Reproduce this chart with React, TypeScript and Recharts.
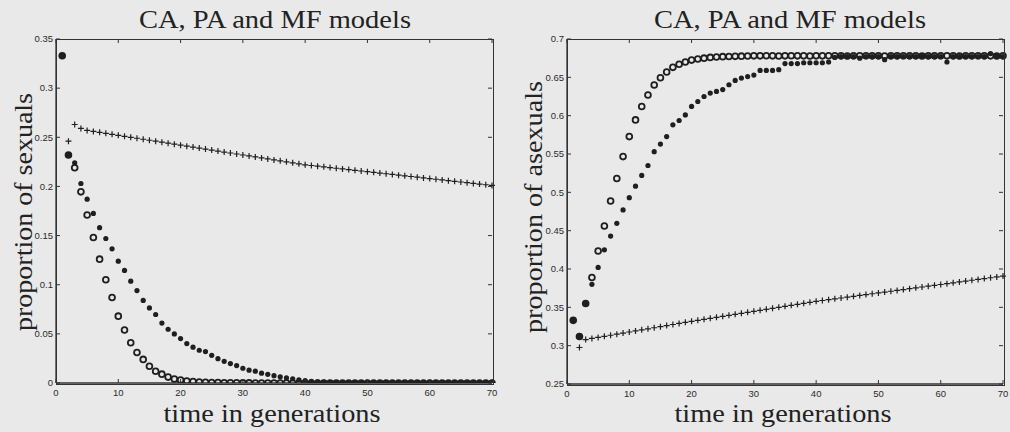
import React from 'react';
import { ScatterChart, Scatter, XAxis, YAxis } from 'recharts';

// generation index shared by every series
const generations = [
  1, 2, 3, 4, 5, 6, 7, 8, 9, 10, 11, 12, 13, 14, 15, 16, 17, 18, 19, 20,
  21, 22, 23, 24, 25, 26, 27, 28, 29, 30, 31, 32, 33, 34, 35, 36, 37, 38, 39, 40,
  41, 42, 43, 44, 45, 46, 47, 48, 49, 50, 51, 52, 53, 54, 55, 56, 57, 58, 59, 60,
  61, 62, 63, 64, 65, 66, 67, 68, 69, 70,
];

// proportion of sexuals
const sexualsCA = [
  0.333, 0.232, 0.219, 0.1945, 0.171, 0.148, 0.126, 0.105, 0.087, 0.068,
  0.054, 0.041, 0.031, 0.024, 0.017, 0.012, 0.009, 0.006, 0.004, 0.003,
  0.002, 0.0015, 0.001, 0.0007, 0.0005, 0.0004, 0.0003, 0.0002, 0.0002, 0.0001,
  0.0001, 0, 0, 0, 0, 0, 0, 0, 0, 0,
  0, 0, 0, 0, 0, 0, 0, 0, 0, 0,
  0, 0, 0, 0, 0, 0, 0, 0, 0, 0,
  0, 0, 0, 0, 0, 0, 0, 0, 0, 0,
];
const sexualsPA = [
  0.333, 0.232, 0.224, 0.203, 0.187, 0.1725, 0.158, 0.147, 0.1365, 0.124,
  0.1145, 0.1036, 0.094, 0.084, 0.0764, 0.0697, 0.061, 0.0547, 0.0499, 0.0452,
  0.0401, 0.0364, 0.0333, 0.032, 0.0282, 0.0248, 0.0221, 0.0198, 0.0177, 0.015,
  0.013, 0.012, 0.01, 0.0088, 0.0075, 0.0063, 0.0052, 0.0042, 0.0033, 0.0025,
  0.0018, 0.0012, 0.0008, 0.0005, 0.0003, 0.0002, 0.0001, 0.0001, 0, 0,
  0, 0, 0, 0, 0, 0, 0, 0, 0, 0,
  0, 0, 0, 0, 0, 0, 0, 0, 0, 0,
];
const sexualsMF = [
  0.333, 0.246, 0.263, 0.259, 0.257, 0.256, 0.255, 0.254, 0.253, 0.252,
  0.251, 0.25, 0.249, 0.248, 0.247, 0.246, 0.245, 0.244, 0.243, 0.242,
  0.241, 0.24, 0.239, 0.238, 0.237, 0.236, 0.235, 0.234, 0.233, 0.232,
  0.231, 0.23, 0.229, 0.228, 0.227, 0.226, 0.225, 0.224, 0.223, 0.222,
  0.2213, 0.2206, 0.2199, 0.2192, 0.2185, 0.2178, 0.2171, 0.2164, 0.2157, 0.215,
  0.2143, 0.2136, 0.2129, 0.2122, 0.2115, 0.2108, 0.2101, 0.2094, 0.2087, 0.208,
  0.2073, 0.2066, 0.2059, 0.2052, 0.2045, 0.2038, 0.2031, 0.2024, 0.2017, 0.201,
];

// proportion of asexuals
const asexualsCA = [
  0.333, 0.312, 0.355, 0.389, 0.4235, 0.456, 0.4887, 0.518, 0.5466, 0.5727,
  0.5945, 0.612, 0.627, 0.64, 0.6495, 0.657, 0.663, 0.667, 0.67, 0.6725,
  0.674, 0.675, 0.676, 0.6765, 0.677, 0.6772, 0.6774, 0.6776, 0.6778, 0.678,
  0.678, 0.6782, 0.678, 0.6778, 0.678, 0.6782, 0.678, 0.678, 0.6778, 0.678,
  0.678, 0.6782, 0.678, 0.678, 0.6778, 0.678, 0.678, 0.6782, 0.678, 0.678,
  0.6778, 0.678, 0.678, 0.6782, 0.678, 0.678, 0.6778, 0.678, 0.678, 0.6782,
  0.678, 0.678, 0.6778, 0.678, 0.678, 0.6782, 0.678, 0.678, 0.6778, 0.678,
];
const asexualsPA = [
  0.333, 0.312, 0.355, 0.38, 0.402, 0.425, 0.443, 0.4596, 0.477, 0.493,
  0.508, 0.522, 0.535, 0.553, 0.563, 0.5727, 0.588, 0.5937, 0.601, 0.612,
  0.6185, 0.625, 0.6295, 0.6316, 0.634, 0.6403, 0.646, 0.649, 0.651, 0.653,
  0.659, 0.659, 0.659, 0.66, 0.668, 0.668, 0.668, 0.669, 0.669, 0.669,
  0.669, 0.67, 0.676, 0.677, 0.677, 0.677, 0.675, 0.677, 0.677, 0.677,
  0.673, 0.677, 0.677, 0.677, 0.677, 0.677, 0.678, 0.677, 0.677, 0.677,
  0.67, 0.677, 0.677, 0.677, 0.677, 0.677, 0.677, 0.681, 0.678, 0.677,
];
const asexualsMF = [
  0.333, 0.2976, 0.308, 0.3094, 0.3108, 0.3122, 0.3136, 0.315, 0.3164, 0.3178,
  0.3192, 0.3206, 0.322, 0.3234, 0.3248, 0.3262, 0.3276, 0.329, 0.3304, 0.3318,
  0.3331, 0.3344, 0.3357, 0.337, 0.3383, 0.3396, 0.3409, 0.3422, 0.3435, 0.3448,
  0.3461, 0.3474, 0.3487, 0.35, 0.3513, 0.3526, 0.3539, 0.3552, 0.3565, 0.3578,
  0.3589, 0.36, 0.3611, 0.3622, 0.3633, 0.3644, 0.3655, 0.3666, 0.3677, 0.3688,
  0.3699, 0.371, 0.3721, 0.3732, 0.3743, 0.3754, 0.3765, 0.3776, 0.3787, 0.3798,
  0.3809, 0.382, 0.3831, 0.3842, 0.3853, 0.3864, 0.3875, 0.3886, 0.3897, 0.3908,
];

const timeDomain: [number, number] = [0, 70];
const timeTicks = [0, 10, 20, 30, 40, 50, 60, 70];
const sexualsDomain: [number, number] = [0, 0.35];
const sexualsTicks = [0, 0.05, 0.1, 0.15, 0.2, 0.25, 0.3, 0.35];
const asexualsDomain: [number, number] = [0.25, 0.7];
const asexualsTicks = [0.25, 0.3, 0.35, 0.4, 0.45, 0.5, 0.55, 0.6, 0.65, 0.7];

const TITLE = 'CA, PA and MF models';
const X_LABEL = 'time in generations';

// panel layout
const CHART_W = 505;
const CHART_H = 432;
const MARGIN_TOP = 39;
const LEFT_PANEL = { offsetX: 0, yAxisWidth: 56, rightMargin: 13, xAxisHeight: 49 };
const RIGHT_PANEL = { offsetX: 505, yAxisWidth: 62, rightMargin: 7, xAxisHeight: 48 };

const INK = '#1f1f1f';
const AXIS = '#333333';
const BG = '#e9e9e9';
const TICK_LEN = 4;
const tickFont = {
  fontFamily: '"Liberation Sans", Arial, sans-serif',
  fontSize: 9.5,
  fill: '#2b2b2b',
};
const serif = '"Liberation Serif", "Times New Roman", serif';

const toPoints = (values: number[]) => generations.map((t, i) => ({ t, v: values[i] }));

// plot rectangle of a panel, in page coordinates
const plotRect = (p: typeof LEFT_PANEL) => ({
  x: p.offsetX + p.yAxisWidth,
  y: MARGIN_TOP,
  width: CHART_W - p.yAxisWidth - p.rightMargin,
  height: CHART_H - MARGIN_TOP - p.xAxisHeight,
});

// marker shapes
const OpenCircle = (p: any) =>
  p.cx == null ? null : <circle cx={p.cx} cy={p.cy} r={2.9} fill="none" stroke={INK} strokeWidth={1.8} />;
const SolidDot = (p: any) =>
  p.cx == null ? null : <circle cx={p.cx} cy={p.cy} r={2.6} fill={INK} />;
const PlusMark = (p: any) =>
  p.cx == null ? null : (
    <path
      d={`M${p.cx - 3},${p.cy}H${p.cx + 3}M${p.cx},${p.cy - 3}V${p.cy + 3}`}
      stroke={INK}
      strokeWidth={1.2}
      fill="none"
    />
  );

// inward ticks on the bottom edge, mirrored on the top edge
const BottomTick = ({ x, y, payload, plotHeight }: any) => (
  <g>
    <line x1={x} y1={y} x2={x} y2={y - TICK_LEN} stroke={AXIS} strokeWidth={1} />
    <line x1={x} y1={y - plotHeight} x2={x} y2={y - plotHeight + TICK_LEN} stroke={AXIS} strokeWidth={1} />
    <text x={x} y={y + 13} textAnchor="middle" {...tickFont}>
      {payload.value}
    </text>
  </g>
);
// inward ticks on the left edge, mirrored on the right edge
const LeftTick = ({ x, y, payload, plotWidth }: any) => (
  <g>
    <line x1={x} y1={y} x2={x + TICK_LEN} y2={y} stroke={AXIS} strokeWidth={1} />
    <line x1={x + plotWidth} y1={y} x2={x + plotWidth - TICK_LEN} y2={y} stroke={AXIS} strokeWidth={1} />
    <text x={x - 3} y={y} dy="0.35em" textAnchor="end" {...tickFont}>
      {payload.value}
    </text>
  </g>
);

type PanelProps = {
  ca: number[];
  pa: number[];
  mf: number[];
  yDomain: [number, number];
  yTicks: number[];
  layout: typeof LEFT_PANEL;
};

function Panel({ ca, pa, mf, yDomain, yTicks, layout }: PanelProps) {
  const axisLine = { stroke: AXIS, strokeWidth: 1.3 };
  const { width: plotWidth, height: plotHeight } = plotRect(layout);
  return (
    <ScatterChart
      width={CHART_W}
      height={CHART_H}
      margin={{ top: MARGIN_TOP, right: layout.rightMargin, bottom: 0, left: 0 }}
    >
      <XAxis
        dataKey="t"
        type="number"
        domain={timeDomain}
        ticks={timeTicks}
        interval={0}
        height={layout.xAxisHeight}
        tickSize={0}
        tickMargin={0}
        tickLine={false}
        axisLine={axisLine}
        tick={<BottomTick plotHeight={plotHeight} />}
      />
      <YAxis
        dataKey="v"
        type="number"
        domain={yDomain}
        ticks={yTicks}
        interval={0}
        width={layout.yAxisWidth}
        tickSize={0}
        tickMargin={0}
        tickLine={false}
        axisLine={axisLine}
        tick={<LeftTick plotWidth={plotWidth} />}
        allowDataOverflow
      />
      <Scatter name="CA" data={toPoints(ca)} shape={<OpenCircle />} isAnimationActive={false} />
      <Scatter name="PA" data={toPoints(pa)} shape={<SolidDot />} isAnimationActive={false} />
      <Scatter name="MF" data={toPoints(mf)} shape={<PlusMark />} isAnimationActive={false} />
    </ScatterChart>
  );
}

// frame drawn as a bordered box over the plot rectangle
const Frame = ({ rect }: { rect: ReturnType<typeof plotRect> }) => (
  <div
    style={{
      position: 'absolute',
      left: rect.x - 0.5,
      top: rect.y - 0.5,
      width: rect.width,
      height: rect.height,
      border: `1.3px solid ${AXIS}`,
      boxSizing: 'content-box',
      pointerEvents: 'none',
    }}
  />
);

export default function App() {
  const leftRect = plotRect(LEFT_PANEL);
  const rightRect = plotRect(RIGHT_PANEL);
  return (
    <div
      style={{
        position: 'fixed',
        left: 0,
        top: 0,
        width: 1010,
        height: 432,
        background: BG,
        overflow: 'hidden',
      }}
    >
      <div style={{ position: 'absolute', left: LEFT_PANEL.offsetX, top: 0 }}>
        <Panel
          ca={sexualsCA}
          pa={sexualsPA}
          mf={sexualsMF}
          yDomain={sexualsDomain}
          yTicks={sexualsTicks}
          layout={LEFT_PANEL}
        />
      </div>
      <div style={{ position: 'absolute', left: RIGHT_PANEL.offsetX, top: 0 }}>
        <Panel
          ca={asexualsCA}
          pa={asexualsPA}
          mf={asexualsMF}
          yDomain={asexualsDomain}
          yTicks={asexualsTicks}
          layout={RIGHT_PANEL}
        />
      </div>
      <Frame rect={leftRect} />
      <Frame rect={rightRect} />
      <svg
        width={1010}
        height={432}
        style={{ position: 'absolute', left: 0, top: 0, pointerEvents: 'none' }}
      >
        <g fontFamily={serif} fontSize={25} fill="#222">
          <text x={275} y={28} textAnchor="middle" textLength={272} lengthAdjust="spacingAndGlyphs">
            {TITLE}
          </text>
          <text x={790} y={28} textAnchor="middle" textLength={272} lengthAdjust="spacingAndGlyphs">
            {TITLE}
          </text>
          <text x={272} y={422} textAnchor="middle" textLength={217} lengthAdjust="spacingAndGlyphs">
            {X_LABEL}
          </text>
          <text x={783} y={422} textAnchor="middle" textLength={217} lengthAdjust="spacingAndGlyphs">
            {X_LABEL}
          </text>
          <text
            transform="translate(31.5,212) rotate(-90)"
            textAnchor="middle"
            textLength={238}
            lengthAdjust="spacingAndGlyphs"
          >
            proportion of sexuals
          </text>
          <text
            transform="translate(541.5,207) rotate(-90)"
            textAnchor="middle"
            textLength={252}
            lengthAdjust="spacingAndGlyphs"
          >
            proportion of asexuals
          </text>
        </g>
      </svg>
    </div>
  );
}
